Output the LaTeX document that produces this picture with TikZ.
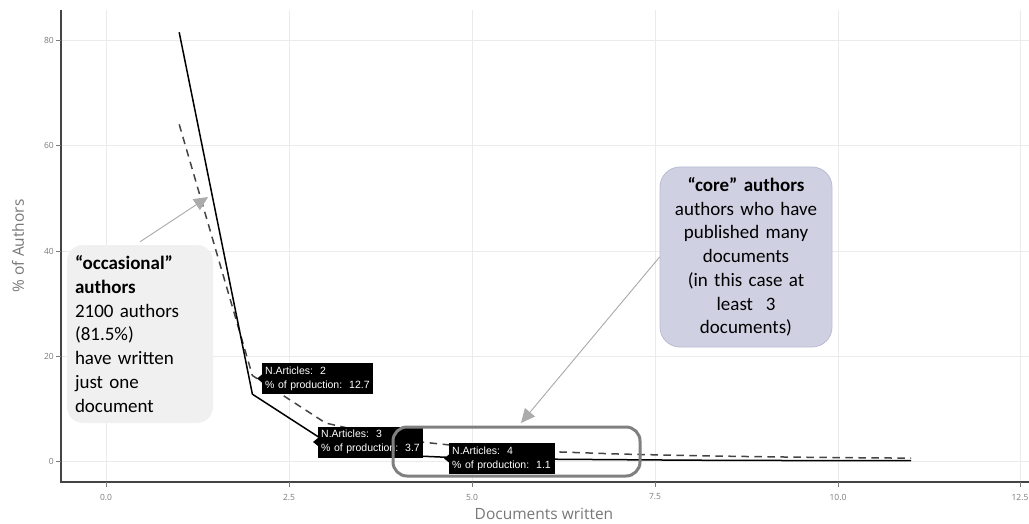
\documentclass[tikz,border=0pt]{standalone}
\usepackage{fontspec}
\setmainfont{Carlito}
\newfontfamily\tipfont{Liberation Sans}
\newfontfamily\axfont{Open Sans}
\usetikzlibrary{arrows.meta,calc}
\definecolor{gridc}{HTML}{EBEBEB}
\definecolor{axc}{HTML}{444444}
\definecolor{tickc}{HTML}{7A7A7A}
\definecolor{titlec}{HTML}{777777}
\definecolor{occfill}{HTML}{F0F0F0}
\definecolor{corefill}{HTML}{CFD1E2}
\definecolor{coredraw}{HTML}{B9BBD3}
\definecolor{hlc}{HTML}{808080}
\definecolor{arrc}{HTML}{ABABAB}
\definecolor{dashc}{HTML}{444444}
\tikzset{
  gridline/.style={draw=gridc, line width=0.8pt},
  axisline/.style={draw=axc, line width=1.8pt},
  tickmark/.style={draw=tickc, line width=0.6pt},
  ticklabel/.style={text=tickc, font=\axfont\fontsize{8.5}{9}\selectfont, inner sep=0pt},
  axtitle/.style={text=titlec, font=\axfont\fontsize{15.5}{17}\selectfont, inner sep=0pt},
  obsline/.style={draw=black, line width=1.5pt, line join=round},
  theoline/.style={draw=dashc, line width=1.5pt, dash pattern=on 7.5pt off 5.5pt},
  tipbox/.style={fill=black, text=white, font=\tipfont\fontsize{10.5}{14}\selectfont,
     align=left, inner xsep=3pt, inner ysep=1.5pt, minimum height=31pt, anchor=west},
  tippoint/.style={fill=black},
  occbox/.style={fill=occfill, rounded corners=16pt, align=left, text width=130pt,
     inner xsep=8pt, inner ysep=4pt, minimum height=178pt,
     font=\fontsize{19}{23.7}\selectfont},
  corebox/.style={fill=corefill, draw=coredraw, line width=0.8pt, rounded corners=20pt,
     align=center, text width=160pt, inner xsep=6pt, inner ysep=4pt, minimum height=180pt,
     font=\fontsize{19}{23.7}\selectfont},
  hlbox/.style={draw=hlc, line width=3pt, rounded corners=14pt, minimum width=247pt,
     minimum height=49pt, inner sep=0pt},
  callarrow/.style={draw=arrc, line width=0.9pt, -{Triangle[length=14pt,width=13pt]}, fill=arrc}
}
\begin{document}
\begin{tikzpicture}[x=1pt,y=-1pt]
\useasboundingbox (0,0) rectangle (1029,524);
% grid
\foreach \yy in {40,145,251,356,461} \draw[gridline] (61,\yy) -- (1029,\yy);
\foreach \xx in {106,289,472,655,838,1020} \draw[gridline] (\xx,10) -- (\xx,482);
% data
\begin{scope}[shift={(106,461)}, x=73.2pt, y=5.26pt]
  \draw[theoline] (1,64) -- (2,16.25) -- (3,7.22) -- (4,4.06) -- (5,2.6) -- (6,1.81)
     -- (7,1.33) -- (8,1.02) -- (9,0.8) -- (10,0.65) -- (11,0.54);
  \draw[obsline] (1,81.5) -- (2,12.7) -- (3,3.7) -- (4,1.1) -- (5,0.5) -- (6,0.35)
     -- (7,0.25) -- (8,0.15) -- (9,0.1) -- (10,0.08) -- (11,0.05);
\end{scope}
% axes
\draw[axisline] (61,10) -- (61,482) -- (1029,482);
\foreach \yy/\lab in {40/80,145/60,251/40,356/20,461/0} {
  \draw[tickmark] (56,\yy) -- (61,\yy);
  \node[ticklabel, anchor=east] (yl\lab) at (54,\yy) {\lab};
}
\foreach \xx/\lab/\nm in {106/0.0/a,289/2.5/b,472/5.0/c,655/7.5/d,838/10.0/e,1020/12.5/f} {
  \draw[tickmark] (\xx,482) -- (\xx,487);
  \node[ticklabel] (xl\nm) at (\xx,497) {\lab};
}
\node[axtitle, rotate=90] (ytitle) at (18,246) {\% of Authors};
\node[axtitle] (xtitle) at (544,514) {Documents written};
% tooltips
\node[tipbox, minimum width=111pt, text width=105pt] (t1) at (262,378.5)
  {N.Articles:\ \ 2\\\%~of production:\ \ 12.7};
\fill[tippoint] ($(t1.west)+(0,-4)$) -- ($(t1.west)+(-5,0)$) -- ($(t1.west)+(0,4)$) -- cycle;
\node[tipbox, minimum width=105pt, text width=99pt] (t2) at (318,442)
  {N.Articles:\ \ 3\\\%~of production:\ \ 3.7};
\fill[tippoint] ($(t2.west)+(0,-4)$) -- ($(t2.west)+(-5,0)$) -- ($(t2.west)+(0,4)$) -- cycle;
\node[tipbox, minimum width=106pt, text width=100pt] (t3) at (449,458.5)
  {N.Articles:\ \ 4\\\%~of production:\ \ 1.1};
\fill[tippoint] ($(t3.west)+(0,-4)$) -- ($(t3.west)+(-5,0)$) -- ($(t3.west)+(0,4)$) -- cycle;
% highlight
\node[hlbox] (hl) at (516.5,451.5) {};
% callouts
\node[occbox] (occ) at (140,334)
  {\textbf{“occasional”}\\\textbf{authors}\\2100 authors\\(81.5\%)\\have written\\just one\\document};
\node[corebox] (core) at (746,257)
  {\textbf{“core” authors}\\authors who have\\published many\\documents\\(in this case at\\least\ \ 3\\documents)};
\coordinate (occtip) at (208,197);
\coordinate (coretip) at (521,423);
\draw[callarrow] ([yshift=3pt]occ.north) -- (occtip);
\draw[callarrow] (core.west) -- (coretip);
\end{tikzpicture}
\end{document}
